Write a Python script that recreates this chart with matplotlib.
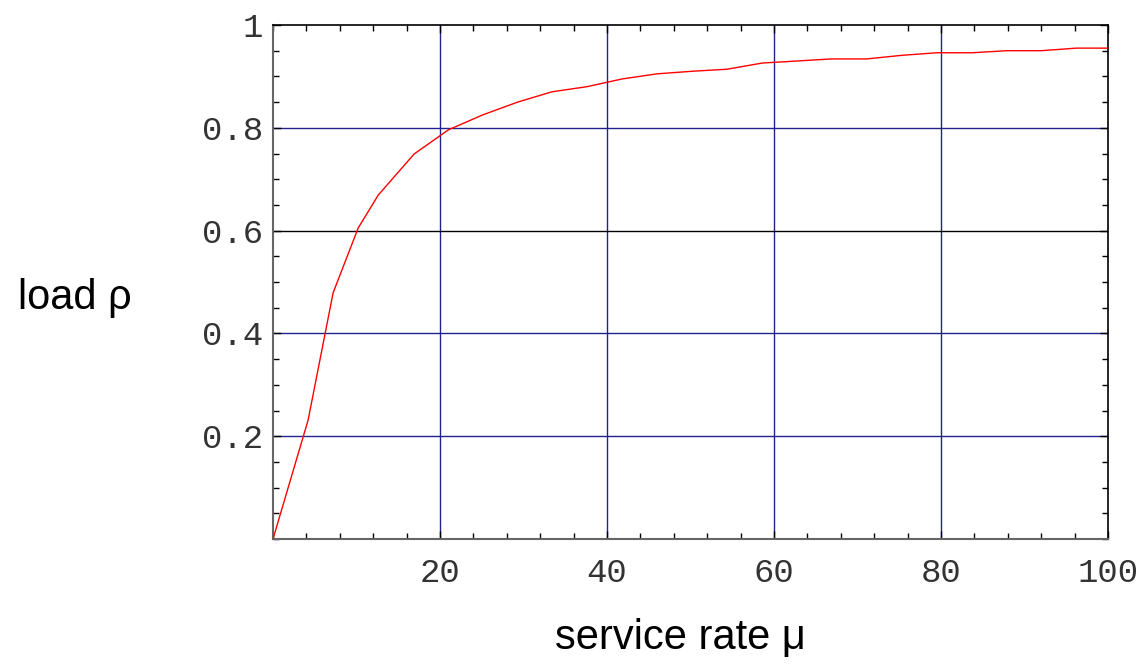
import matplotlib
matplotlib.use("Agg")
import matplotlib.pyplot as plt
from matplotlib.ticker import MultipleLocator

# service rate mu and load rho
mu = [0, 4.2, 7.2, 10.2, 12.6, 16.9, 21.0, 25.1, 29.3, 33.4, 37.6, 41.8, 46.0,
      50.2, 54.4, 58.6, 62.8, 66.9, 71.1, 75.3, 79.5, 83.7, 87.9, 92.0, 96.2, 100]
rho = [0, 0.231, 0.479, 0.605, 0.669, 0.749, 0.796, 0.825, 0.850, 0.870, 0.880,
       0.895, 0.905, 0.910, 0.914, 0.926, 0.930, 0.934, 0.934, 0.941, 0.946,
       0.946, 0.950, 0.950, 0.955, 0.955]

x_ticks = [20, 40, 60, 80, 100]
x_tick_labels = ["20", "40", "60", "80", "100"]
y_ticks = [0.2, 0.4, 0.6, 0.8, 1.0]
y_tick_labels = ["0.2", "0.4", "0.6", "0.8", "1"]

fig = plt.figure(figsize=(11.44, 6.64), dpi=100)
ax = fig.add_axes([273 / 1144, 1 - 539 / 664, 835 / 1144, 514 / 664])

## grid lines: blue, except the 0.6 line which is black
grid_blue = "#22228f"
for xv in x_ticks[:-1]:
    ax.axvline(xv, color=grid_blue, lw=1.0, zorder=1)
for yv in y_ticks[:-1]:
    ax.axhline(yv, color="black" if yv == 0.6 else grid_blue, lw=1.0, zorder=1)

ax.plot(mu, rho, color="red", lw=1.0, zorder=3)

ax.set_xlim(0, 100)
ax.set_ylim(0, 1)
ax.set_xticks(x_ticks)
ax.set_xticklabels(x_tick_labels)
ax.set_yticks(y_ticks)
ax.set_yticklabels(y_tick_labels)
ax.xaxis.set_minor_locator(MultipleLocator(4))
ax.yaxis.set_minor_locator(MultipleLocator(0.05))
ax.tick_params(which="both", direction="in", top=True, right=True,
               width=1.0, color="black")
ax.tick_params(which="major", length=6)
ax.tick_params(which="minor", length=4)
ax.tick_params(axis="x", which="major", pad=14)
ax.tick_params(axis="y", which="major", pad=7)

for lab in ax.get_xticklabels() + ax.get_yticklabels():
    lab.set_fontfamily("Liberation Mono")
    lab.set_fontsize(24.5)
    lab.set_color("#333333")

for side in ["left", "bottom"]:
    ax.spines[side].set_color("#666666")
    ax.spines[side].set_linewidth(1.5)
for side in ["top", "right"]:
    ax.spines[side].set_color("black")
    ax.spines[side].set_linewidth(1.2)

fig.text(18 / 1144, 1 - 298 / 664, "load ρ", fontsize=30,
         family="Liberation Sans", ha="left", va="center")
fig.text(680 / 1144, 1 - 638 / 664, "service rate μ", fontsize=30,
         family="Liberation Sans", ha="center", va="center")

plt.savefig("out.png", dpi=100)
plt.close()
